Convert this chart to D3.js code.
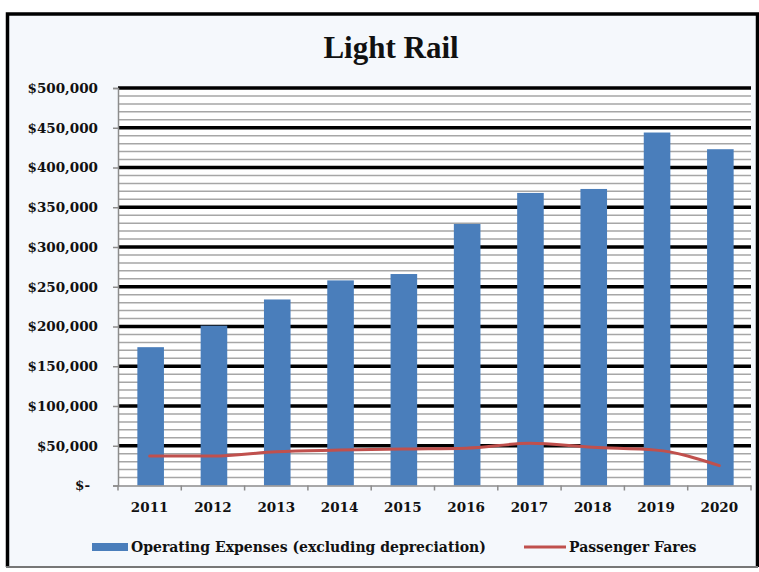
<!DOCTYPE html>
<html>
<head>
<meta charset="utf-8">
<script src="https://cdn.jsdelivr.net/npm/d3@7"></script>
<style>
  html, body { margin: 0; padding: 0; background: #ffffff; }
  svg { display: block; }
</style>
</head>
<body>
<svg id="chart" width="759" height="572"></svg>
<script>
// Light Rail: operating expenses (bars) and passenger fares (line), 2011–2020
const years = ["2011", "2012", "2013", "2014", "2015", "2016", "2017", "2018", "2019", "2020"];
const operatingExpenses = [174000, 201000, 234000, 258000, 266000, 329000, 368000, 373000, 444000, 423000];
const passengerFares = [37000, 37000, 42500, 44500, 46000, 47000, 53000, 48000, 44500, 25000];
const yTicks = [0, 50000, 100000, 150000, 200000, 250000, 300000, 350000, 400000, 450000, 500000];
const minorTicks = d3.range(0, 500001, 10000);
const seriesNames = ["Operating Expenses (excluding depreciation)", "Passenger Fares"];

const W = 759, H = 572;
const plot = { left: 118, right: 751, top: 88, bottom: 485.5 };
const barColor = "#4a7ebb";
const lineColor = "#c0504d";
const labelFont = "'DejaVu Serif', serif";

const svg = d3.select("#chart");

// chart frame
svg.append("rect").attr("x", 6).attr("y", 13).attr("width", 752).attr("height", 554)
  .attr("fill", "#f5f8fc");
svg.append("path")
  .attr("d", "M7.5,567 L7.5,14 L757.5,14 L757.5,567")
  .attr("fill", "none").attr("stroke", "#000").attr("stroke-width", 3.5);
svg.append("line").attr("x1", 6).attr("x2", 758).attr("y1", 567).attr("y2", 567)
  .attr("stroke", "#777").attr("stroke-width", 2);

// plot area
svg.append("rect")
  .attr("x", plot.left).attr("y", plot.top)
  .attr("width", plot.right - plot.left).attr("height", plot.bottom - plot.top)
  .attr("fill", "#ffffff");

const x = d3.scaleBand().domain(years).range([plot.left, plot.right]).paddingInner(0.58).paddingOuter(0.29);
const xCat = d3.scaleBand().domain(years).range([plot.left, plot.right]);
const y = d3.scaleLinear().domain([0, 500000]).range([plot.bottom, plot.top]);

// minor gridlines
svg.append("g").selectAll("line")
  .data(minorTicks.filter(v => v % 50000 !== 0))
  .join("line")
  .attr("x1", plot.left).attr("x2", plot.right)
  .attr("y1", d => y(d)).attr("y2", d => y(d))
  .attr("stroke", "#a6a6a6").attr("stroke-width", 1.5);

// major gridlines
svg.append("g").selectAll("line")
  .data(yTicks.filter(v => v > 0))
  .join("line")
  .attr("x1", plot.left).attr("x2", plot.right)
  .attr("y1", d => y(d)).attr("y2", d => y(d))
  .attr("stroke", "#000").attr("stroke-width", 3.5);

// bars
svg.append("g").selectAll("rect")
  .data(years.map((yr, i) => ({ yr, v: operatingExpenses[i] })))
  .join("rect")
  .attr("x", d => xCat(d.yr) + xCat.bandwidth() / 2 - x.bandwidth() / 2 + 1)
  .attr("width", x.bandwidth())
  .attr("y", d => y(d.v))
  .attr("height", d => y(0) - y(d.v))
  .attr("fill", barColor);

// passenger fares line
const line = d3.line()
  .x((d, i) => xCat(years[i]) + xCat.bandwidth() / 2)
  .y(d => y(d))
  .curve(d3.curveMonotoneX);
svg.append("path")
  .datum(passengerFares)
  .attr("d", line)
  .attr("fill", "none")
  .attr("stroke", lineColor)
  .attr("stroke-width", 3)
  .attr("stroke-linecap", "round");

// y axis
const yAxis = d3.axisLeft(y)
  .tickValues(yTicks)
  .tickSize(5)
  .tickPadding(15)
  .tickFormat(v => v === 0 ? "$-" : "$" + d3.format(",")(v));
const gy = svg.append("g").attr("transform", `translate(${plot.left},0)`).call(yAxis);
gy.select(".domain").attr("stroke", "#8c8c8c").attr("stroke-width", 1.5);
gy.selectAll(".tick line").attr("stroke", "#8c8c8c").attr("stroke-width", 1.5);
gy.selectAll(".tick text")
  .attr("font-family", labelFont).attr("font-weight", "bold")
  .attr("font-size", "13.5px").attr("fill", "#111");
gy.selectAll(".tick").filter(d => d === 0).select("text").attr("dx", "-8");

// x axis
const xAxis = d3.axisBottom(xCat).tickSize(0).tickPadding(17);
const gx = svg.append("g").attr("transform", `translate(0,${plot.bottom})`).call(xAxis);
gx.select(".domain").attr("stroke", "#8c8c8c").attr("stroke-width", 1.5);
gx.selectAll(".tick text")
  .attr("font-family", labelFont).attr("font-weight", "bold")
  .attr("font-size", "13.5px").attr("fill", "#111");
// category boundary ticks
svg.append("g").selectAll("line")
  .data(years.concat(["end"]))
  .join("line")
  .attr("x1", d => d === "end" ? plot.right : xCat(d))
  .attr("x2", d => d === "end" ? plot.right : xCat(d))
  .attr("y1", plot.bottom).attr("y2", plot.bottom + 5)
  .attr("stroke", "#8c8c8c").attr("stroke-width", 1.5);

// title
svg.append("text")
  .attr("x", 391).attr("y", 58)
  .attr("text-anchor", "middle")
  .attr("font-family", "'Liberation Serif', serif")
  .attr("font-weight", "bold")
  .attr("font-size", "31px")
  .attr("fill", "#111")
  .text("Light Rail");

// legend
const lg = svg.append("g").attr("font-family", labelFont).attr("font-weight", "bold")
  .attr("font-size", "14px").attr("fill", "#111");
lg.append("rect").attr("x", 92).attr("y", 543).attr("width", 36).attr("height", 8).attr("fill", barColor);
lg.append("text").attr("x", 131).attr("y", 552).text(seriesNames[0]);
lg.append("line").attr("x1", 524).attr("x2", 566).attr("y1", 547).attr("y2", 547)
  .attr("stroke", lineColor).attr("stroke-width", 3);
lg.append("text").attr("x", 569).attr("y", 552).text(seriesNames[1]);
</script>
</body>
</html>
